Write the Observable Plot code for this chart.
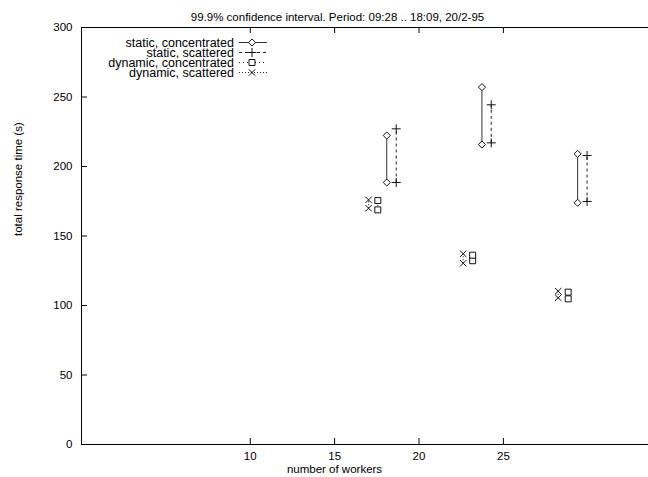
<!DOCTYPE html>
<html><head><meta charset="utf-8">
<script src="https://cdn.jsdelivr.net/npm/d3@7"></script>
<script src="https://cdn.jsdelivr.net/npm/@observablehq/plot@0.6"></script>
<style>body{margin:0;background:#fff;} svg{display:block}</style>
</head><body><div id="chart"></div>
<script>
const title = "99.9% confidence interval. Period: 09:28 .. 18:09, 20/2-95";
const xLabel = "number of workers";
const yLabel = "total response time (s)";
const xTicks = [10, 15, 20, 25];
const yTicks = [0, 50, 100, 150, 200, 250, 300];
const seriesNames = ["static, concentrated", "static, scattered", "dynamic, concentrated", "dynamic, scattered"];

const staticConcX = [18.09, 23.73, 29.40];
const staticConcLow = [188.5, 215.8, 173.9];
const staticConcHigh = [222.3, 257.1, 209.1];
const staticScatX = [18.65, 24.28, 29.96];
const staticScatLow = [188.5, 217.0, 174.8];
const staticScatHigh = [227.1, 244.4, 207.9];
const dynConcX = [17.56, 23.18, 28.84];
const dynConcLow = [168.8, 132.2, 104.8];
const dynConcHigh = [175.5, 136.2, 109.6];
const dynScatX = [17.01, 22.62, 28.25];
const dynScatLow = [170.0, 130.4, 105.5];
const dynScatHigh = [176.0, 137.2, 110.3];

const styles = [
  {symbol: "diamond2", dash: null, stroke: "#333", r: 3.2, fill: "white"},
  {symbol: "plus", dash: "3,3", stroke: "#222", r: 3.0, fill: "none"},
  {symbol: "square2", dash: "1,3", stroke: "#222", r: 3.8, fill: "white"},
  {symbol: "times", dash: "1,2", stroke: "#222", r: 3.0, fill: "none"}
];
const seriesData = [
  [staticConcX, staticConcLow, staticConcHigh],
  [staticScatX, staticScatLow, staticScatHigh],
  [dynConcX, dynConcLow, dynConcHigh],
  [dynScatX, dynScatLow, dynScatHigh]
];

const FONT = "'Liberation Sans', Helvetica, Arial, sans-serif";
const W = 648, H = 477, ML = 81, MR = 0, MT = 27, MB = 33;

const marks = [];
seriesData.forEach(([xs, lo, hi], i) => {
  const s = styles[i];
  const rows = xs.map((x, j) => ({x, low: lo[j], high: hi[j]}));
  const pts = rows.flatMap(r => [{x: r.x, y: r.low}, {x: r.x, y: r.high}]);
  marks.push(Plot.link(rows, {x1: "x", x2: "x", y1: "low", y2: "high", stroke: s.stroke, strokeWidth: 1, strokeDasharray: s.dash}));
  marks.push(Plot.dot(pts, {x: "x", y: "y", symbol: () => s.symbol, r: s.r, stroke: "#111", strokeWidth: 1, fill: s.fill}));
});

const chart = Plot.plot({
  width: W, height: H,
  marginLeft: ML, marginRight: MR, marginTop: MT, marginBottom: MB,
  style: {fontFamily: FONT, fontSize: "11.5px", background: "white", color: "black"},
  x: {domain: [0, 33.6], ticks: xTicks, tickSize: 0, tickPadding: 7, label: null},
  y: {domain: [0, 300], ticks: yTicks, tickSize: 0, tickPadding: 9, label: null},
  symbol: {domain: ["diamond2", "plus", "square2", "times"], range: ["diamond2", "plus", "square2", "times"]},
  marks: [
    Plot.ruleY(yTicks, {x1: 0, x2: 6 / 16.93, stroke: "black"}),
    Plot.ruleX(xTicks, {y1: 0, y2: 6 / 1.39, stroke: "black"}),
    Plot.ruleX(xTicks, {y1: 300, y2: 300 - 6 / 1.39, stroke: "black"}),
    ...marks,
    Plot.frame({stroke: "black", strokeWidth: 1}),
    Plot.text([title], {frameAnchor: "top", dy: -15, dx: 337 - (ML + W - MR) / 2, fontSize: 11.5}),
    Plot.text([xLabel], {frameAnchor: "bottom", dy: 28, dx: 334 - (ML + W - MR) / 2, fontSize: 11.5}),
    Plot.text([yLabel], {frameAnchor: "left", dx: 18 - ML, rotate: -90, fontSize: 11.5})
  ]
});
document.getElementById("chart").appendChild(chart);

// legend (top-left inside plot)
const svg = d3.select(chart);
const lg = svg.append("g").attr("font-family", FONT).attr("font-size", "12.5px");
const rowsY = [42.5, 52.5, 62.5, 72.5];
const symMap = {diamond2: d3.symbolDiamond2, plus: d3.symbolPlus, square2: d3.symbolSquare2, times: d3.symbolTimes};
seriesNames.forEach((name, i) => {
  const s = styles[i];
  const y = rowsY[i];
  lg.append("text").attr("x", 234).attr("y", y).attr("dy", "0.35em").attr("text-anchor", "end").text(name);
  lg.append("line").attr("x1", 239).attr("x2", 267).attr("y1", y).attr("y2", y)
    .attr("stroke", s.stroke).attr("stroke-dasharray", s.dash);
  lg.append("path").attr("transform", `translate(252,${y})`)
    .attr("d", d3.symbol(symMap[s.symbol], Math.PI * s.r * s.r)())
    .attr("stroke", "#111").attr("fill", s.fill);
});
</script></body></html>
